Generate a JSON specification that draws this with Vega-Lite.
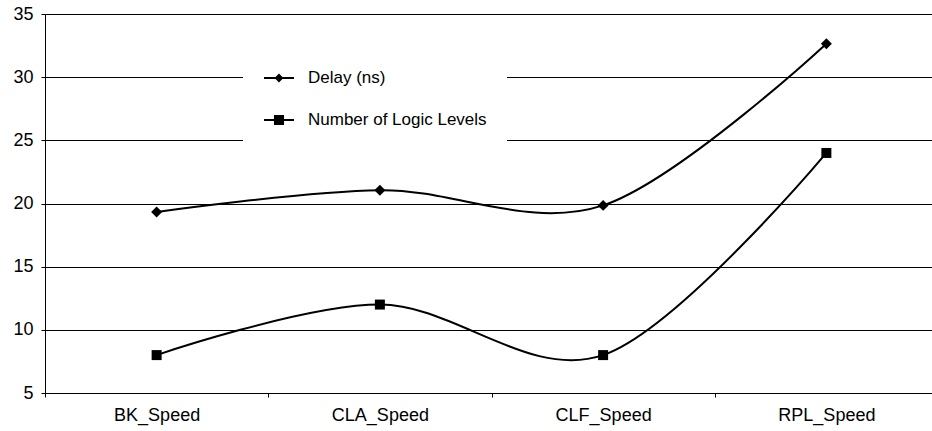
{
  "$schema": "https://vega.github.io/schema/vega-lite/v6.json",
  "width": 887,
  "height": 379,
  "autosize": "none",
  "padding": {"left": 45, "top": 14, "right": 0, "bottom": 38},
  "background": "white",
  "config": {
    "view": {"stroke": null},
    "font": "Liberation Sans",
    "axis": {"labelFont": "Liberation Sans", "labelFontSize": 18, "labelColor": "black", "domainColor": "black", "tickColor": "black", "gridColor": "black", "gridOpacity": 1, "tickSize": 4, "title": null}
  },
  "data": {
    "values": [
      {"cat": "BK_Speed", "series": "Delay (ns)", "value": 19.33},
      {"cat": "CLA_Speed", "series": "Delay (ns)", "value": 21.05},
      {"cat": "CLF_Speed", "series": "Delay (ns)", "value": 19.85},
      {"cat": "RPL_Speed", "series": "Delay (ns)", "value": 32.65},
      {"cat": "BK_Speed", "series": "Number of Logic Levels", "value": 8},
      {"cat": "CLA_Speed", "series": "Number of Logic Levels", "value": 12},
      {"cat": "CLF_Speed", "series": "Number of Logic Levels", "value": 8},
      {"cat": "RPL_Speed", "series": "Number of Logic Levels", "value": 24}
    ]
  },
  "encoding": {
    "x": {
      "field": "cat", "type": "nominal", "sort": null,
      "scale": {"type": "band", "paddingInner": 0, "paddingOuter": 0, "range": [0, 893]},
      "axis": {"labelAngle": 0, "tickBand": "extent", "labelPadding": 9, "grid": false, "domainWidth": 1}
    },
    "y": {
      "field": "value", "type": "quantitative",
      "scale": {"domain": [5, 35], "nice": false, "zero": false},
      "axis": {"values": [5, 10, 15, 20, 25, 30, 35], "grid": true, "gridWidth": 1, "labelPadding": 8, "domainWidth": 1}
    }
  },
  "layer": [
    {
      "mark": {"type": "line", "interpolate": "cardinal", "color": "black", "strokeWidth": 2},
      "encoding": {"detail": {"field": "series"}}
    },
    {
      "mark": {"type": "point", "filled": true, "color": "black", "opacity": 1},
      "encoding": {
        "shape": {"field": "series", "type": "nominal", "scale": {"domain": ["Delay (ns)", "Number of Logic Levels"], "range": ["diamond", "square"]}, "legend": null},
        "size": {"field": "series", "type": "nominal", "scale": {"domain": ["Delay (ns)", "Number of Logic Levels"], "range": [120, 100]}, "legend": null}
      }
    },
    {
      "mark": {"type": "point", "filled": false, "color": "black", "opacity": 0, "strokeWidth": 2},
      "encoding": {
        "shape": {
          "field": "series", "type": "nominal",
          "scale": {"domain": ["Delay (ns)", "Number of Logic Levels"], "range": ["M-1,0H1M-0.2,0L0,-0.2L0.2,0L0,0.2ZM-0.1,0H0.1", "M-1,0H1M-0.27,-0.27H0.27V0.27H-0.27ZM-0.27,-0.135H0.27M-0.27,0.135H0.27"]},
          "legend": {
            "title": null, "orient": "none", "legendX": 198, "legendY": 28,
            "fillColor": "white", "padding": 20, "symbolSize": 900,
            "symbolStrokeWidth": 2, "symbolFillColor": "black", "symbolStrokeColor": "black", "symbolOpacity": 1,
            "labelFont": "Liberation Sans", "labelFontSize": 17, "labelColor": "black",
            "labelOffset": 13, "rowPadding": 18, "labelLimit": 400,
            "labelExpr": "datum.label + '\u00a0\u00a0\u00a0'",
            "encode": {"symbols": {"update": {"stroke": {"value": "black"}, "strokeOpacity": {"value": 1}, "fill": {"value": "black"}, "fillOpacity": {"value": 1}, "strokeWidth": {"value": 2}, "opacity": {"value": 1}}}}
          }
        }
      }
    }
  ],
  "resolve": {"scale": {"shape": "independent", "size": "independent"}, "legend": {"shape": "independent"}}
}
